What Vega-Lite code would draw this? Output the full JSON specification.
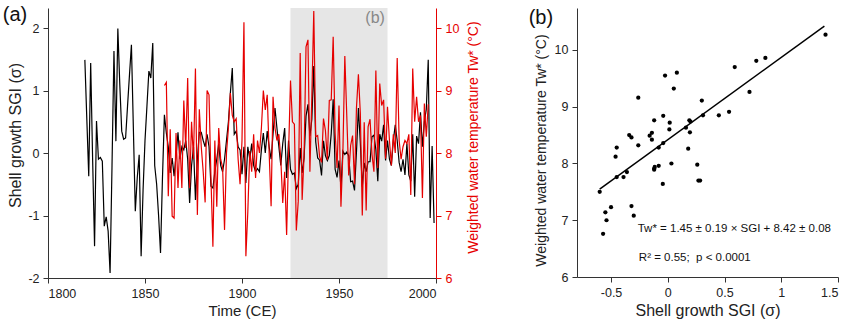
{
  "$schema": "https://vega.github.io/schema/vega-lite/v6.json",
  "background": "white",
  "padding": {"left": 2, "top": 4, "right": 0, "bottom": 0},
  "config": {
    "font": "Liberation Sans",
    "view": {"stroke": null},
    "axis": {"grid": false, "domainColor": "#333", "tickColor": "#333", "labelColor": "#222", "titleColor": "#222", "labelFontSize": 12.5, "titleFontSize": 15, "titleFontWeight": "normal", "tickSize": 5, "labelPadding": 4},
    "axisRight": {"domainColor": "#e60000", "tickColor": "#e60000", "labelColor": "#e60000", "titleColor": "#e60000"}
  },
  "datasets": {
    "ts": [
      {"year": 1819, "sgi": 1.49, "temp": null},
      {"year": 1820, "sgi": 0.55, "temp": null},
      {"year": 1821, "sgi": -0.37, "temp": null},
      {"year": 1822, "sgi": 1.44, "temp": null},
      {"year": 1823, "sgi": -0.1, "temp": null},
      {"year": 1824, "sgi": -1.49, "temp": null},
      {"year": 1825, "sgi": 0.51, "temp": null},
      {"year": 1826, "sgi": -0.1, "temp": null},
      {"year": 1827, "sgi": -0.07, "temp": null},
      {"year": 1828, "sgi": -0.13, "temp": null},
      {"year": 1829, "sgi": -1.17, "temp": null},
      {"year": 1830, "sgi": -1.02, "temp": null},
      {"year": 1831, "sgi": -1.25, "temp": null},
      {"year": 1832, "sgi": -1.92, "temp": null},
      {"year": 1833, "sgi": -0.2, "temp": null},
      {"year": 1834, "sgi": 1.63, "temp": null},
      {"year": 1835, "sgi": 0.19, "temp": null},
      {"year": 1836, "sgi": 1.99, "temp": null},
      {"year": 1837, "sgi": 1.1, "temp": null},
      {"year": 1838, "sgi": 0.35, "temp": null},
      {"year": 1839, "sgi": 0.22, "temp": null},
      {"year": 1840, "sgi": 0.24, "temp": null},
      {"year": 1841, "sgi": 0.75, "temp": null},
      {"year": 1842, "sgi": 1.25, "temp": null},
      {"year": 1843, "sgi": 1.73, "temp": null},
      {"year": 1844, "sgi": 0.4, "temp": null},
      {"year": 1845, "sgi": -0.93, "temp": null},
      {"year": 1846, "sgi": -0.4, "temp": null},
      {"year": 1847, "sgi": -0.03, "temp": null},
      {"year": 1848, "sgi": -1.65, "temp": null},
      {"year": 1849, "sgi": -0.6, "temp": null},
      {"year": 1850, "sgi": 0.2, "temp": null},
      {"year": 1851, "sgi": 0.75, "temp": null},
      {"year": 1852, "sgi": 1.31, "temp": null},
      {"year": 1853, "sgi": 1.2, "temp": null},
      {"year": 1854, "sgi": 1.76, "temp": null},
      {"year": 1855, "sgi": -0.2, "temp": null},
      {"year": 1856, "sgi": -0.5, "temp": null},
      {"year": 1857, "sgi": -1.0, "temp": null},
      {"year": 1858, "sgi": -1.6, "temp": null},
      {"year": 1859, "sgi": -0.4, "temp": null},
      {"year": 1860, "sgi": 0.61, "temp": 9.08},
      {"year": 1861, "sgi": 0.32, "temp": 9.13},
      {"year": 1862, "sgi": 0.1, "temp": 7.31},
      {"year": 1863, "sgi": -0.32, "temp": 8.38},
      {"year": 1864, "sgi": -0.08, "temp": 6.99},
      {"year": 1865, "sgi": -0.37, "temp": 6.96},
      {"year": 1866, "sgi": -0.05, "temp": 8.32},
      {"year": 1867, "sgi": 0.33, "temp": 7.44},
      {"year": 1868, "sgi": -0.1, "temp": 8.2},
      {"year": 1869, "sgi": 0.1, "temp": 7.44},
      {"year": 1870, "sgi": 0.05, "temp": 8.84},
      {"year": 1871, "sgi": 0.2, "temp": 8.08},
      {"year": 1872, "sgi": -0.1, "temp": 9.2},
      {"year": 1873, "sgi": -0.8, "temp": 7.44},
      {"year": 1874, "sgi": -0.2, "temp": 8.5},
      {"year": 1875, "sgi": 0.1, "temp": 7.9},
      {"year": 1876, "sgi": -0.75, "temp": 9.35},
      {"year": 1877, "sgi": -0.1, "temp": 7.01},
      {"year": 1878, "sgi": 0.33, "temp": 8.7},
      {"year": 1879, "sgi": 0.33, "temp": 8.1},
      {"year": 1880, "sgi": 0.2, "temp": 7.7},
      {"year": 1881, "sgi": 0.1, "temp": 7.21},
      {"year": 1882, "sgi": 0.3, "temp": 9.0},
      {"year": 1883, "sgi": 0.1, "temp": 8.93},
      {"year": 1884, "sgi": -0.53, "temp": 7.6},
      {"year": 1885, "sgi": -0.56, "temp": 6.5},
      {"year": 1886, "sgi": -0.3, "temp": 8.2},
      {"year": 1887, "sgi": -0.1, "temp": 7.14},
      {"year": 1888, "sgi": 0.15, "temp": 8.4},
      {"year": 1889, "sgi": -0.2, "temp": 7.9},
      {"year": 1890, "sgi": -0.3, "temp": 7.77},
      {"year": 1891, "sgi": -0.1, "temp": 6.77},
      {"year": 1892, "sgi": 0.2, "temp": 8.0},
      {"year": 1893, "sgi": 0.5, "temp": 8.4},
      {"year": 1894, "sgi": 0.96, "temp": 8.96},
      {"year": 1895, "sgi": 1.36, "temp": 8.6},
      {"year": 1896, "sgi": 0.3, "temp": 8.5},
      {"year": 1897, "sgi": 0.35, "temp": 8.55},
      {"year": 1898, "sgi": 0.1, "temp": 7.9},
      {"year": 1899, "sgi": 0.05, "temp": 7.5},
      {"year": 1900, "sgi": -0.34, "temp": 8.2},
      {"year": 1901, "sgi": 0.1, "temp": 10.09},
      {"year": 1902, "sgi": -0.48, "temp": 6.35},
      {"year": 1903, "sgi": 0.1, "temp": 7.06},
      {"year": 1904, "sgi": -0.1, "temp": 8.03},
      {"year": 1905, "sgi": 0.15, "temp": 7.7},
      {"year": 1906, "sgi": -0.2, "temp": 8.3},
      {"year": 1907, "sgi": -0.3, "temp": 7.6},
      {"year": 1908, "sgi": -0.25, "temp": 8.2},
      {"year": 1909, "sgi": -0.3, "temp": 8.0},
      {"year": 1910, "sgi": 0.05, "temp": 8.4},
      {"year": 1911, "sgi": 0.32, "temp": 9.0},
      {"year": 1912, "sgi": 0.0, "temp": 8.69},
      {"year": 1913, "sgi": 0.35, "temp": 8.93},
      {"year": 1914, "sgi": 0.1, "temp": 8.0},
      {"year": 1915, "sgi": -0.1, "temp": 7.15},
      {"year": 1916, "sgi": 0.3, "temp": 8.9},
      {"year": 1917, "sgi": 0.72, "temp": 8.4},
      {"year": 1918, "sgi": 0.4, "temp": 8.2},
      {"year": 1919, "sgi": 0.1, "temp": 8.3},
      {"year": 1920, "sgi": -0.2, "temp": 7.9},
      {"year": 1921, "sgi": 0.15, "temp": 7.2},
      {"year": 1922, "sgi": 0.4, "temp": 7.7},
      {"year": 1923, "sgi": -0.4, "temp": 6.69},
      {"year": 1924, "sgi": 0.2, "temp": 8.0},
      {"year": 1925, "sgi": -0.26, "temp": 9.16},
      {"year": 1926, "sgi": -0.34, "temp": 8.5},
      {"year": 1927, "sgi": -0.32, "temp": 8.46},
      {"year": 1928, "sgi": -0.57, "temp": 6.76},
      {"year": 1929, "sgi": -0.5, "temp": 7.23},
      {"year": 1930, "sgi": 0.08, "temp": 9.6},
      {"year": 1931, "sgi": -0.32, "temp": 7.25},
      {"year": 1932, "sgi": -0.08, "temp": 7.96},
      {"year": 1933, "sgi": 0.59, "temp": 9.7},
      {"year": 1934, "sgi": 0.78, "temp": 9.81},
      {"year": 1935, "sgi": 0.27, "temp": 7.7},
      {"year": 1936, "sgi": 0.54, "temp": 8.91},
      {"year": 1937, "sgi": 1.39, "temp": 10.27},
      {"year": 1938, "sgi": 0.18, "temp": 8.26},
      {"year": 1939, "sgi": -0.08, "temp": 8.28},
      {"year": 1940, "sgi": -0.115, "temp": 7.94},
      {"year": 1941, "sgi": -0.36, "temp": 7.85},
      {"year": 1942, "sgi": 0.195, "temp": 8.55},
      {"year": 1943, "sgi": -0.04, "temp": 8.36},
      {"year": 1944, "sgi": -0.12, "temp": 7.89},
      {"year": 1945, "sgi": -0.04, "temp": 8.84},
      {"year": 1946, "sgi": 0.31, "temp": 8.85},
      {"year": 1947, "sgi": 0.86, "temp": 9.86},
      {"year": 1948, "sgi": -0.26, "temp": 8.32},
      {"year": 1949, "sgi": -0.39, "temp": 7.76},
      {"year": 1950, "sgi": -0.12, "temp": 8.76},
      {"year": 1951, "sgi": -0.55, "temp": 7.14},
      {"year": 1952, "sgi": 0.032, "temp": 8.0},
      {"year": 1953, "sgi": -0.024, "temp": 9.55},
      {"year": 1954, "sgi": 0.014, "temp": 8.6},
      {"year": 1955, "sgi": -0.044, "temp": 7.64},
      {"year": 1956, "sgi": -0.46, "temp": 8.12},
      {"year": 1957, "sgi": -0.45, "temp": 8.28},
      {"year": 1958, "sgi": -0.6, "temp": 7.5},
      {"year": 1959, "sgi": 0.017, "temp": 8.72},
      {"year": 1960, "sgi": 0.72, "temp": 9.26},
      {"year": 1961, "sgi": 0.16, "temp": 8.63},
      {"year": 1962, "sgi": -0.54, "temp": 7.0},
      {"year": 1963, "sgi": -0.16, "temp": 8.49},
      {"year": 1964, "sgi": -0.3, "temp": 7.08},
      {"year": 1965, "sgi": -0.14, "temp": 8.42},
      {"year": 1966, "sgi": -0.14, "temp": 8.54},
      {"year": 1967, "sgi": 0.26, "temp": 7.98},
      {"year": 1968, "sgi": 0.285, "temp": 7.7},
      {"year": 1969, "sgi": 0.053, "temp": 9.32},
      {"year": 1970, "sgi": -0.45, "temp": 7.76},
      {"year": 1971, "sgi": 0.3, "temp": 9.11},
      {"year": 1972, "sgi": 0.19, "temp": 8.76},
      {"year": 1973, "sgi": 0.45, "temp": 8.85},
      {"year": 1974, "sgi": -0.12, "temp": 7.91},
      {"year": 1975, "sgi": 0.2, "temp": 8.74},
      {"year": 1976, "sgi": -0.1, "temp": 8.2},
      {"year": 1977, "sgi": -0.2, "temp": 7.8},
      {"year": 1978, "sgi": 0.2, "temp": 8.3},
      {"year": 1979, "sgi": 0.45, "temp": 8.0},
      {"year": 1980, "sgi": 0.2, "temp": 9.52},
      {"year": 1981, "sgi": -0.15, "temp": 8.2},
      {"year": 1982, "sgi": -0.3, "temp": 7.9},
      {"year": 1983, "sgi": -0.1, "temp": 8.1},
      {"year": 1984, "sgi": -0.35, "temp": 8.2},
      {"year": 1985, "sgi": 0.15, "temp": 8.15},
      {"year": 1986, "sgi": -0.35, "temp": 8.3},
      {"year": 1987, "sgi": -0.45, "temp": 7.33},
      {"year": 1988, "sgi": 0.3, "temp": 9.35},
      {"year": 1989, "sgi": -0.7, "temp": 8.5},
      {"year": 1990, "sgi": 0.27, "temp": 8.9},
      {"year": 1991, "sgi": 0.15, "temp": 8.5},
      {"year": 1992, "sgi": 0.65, "temp": 8.6},
      {"year": 1993, "sgi": 0.1, "temp": 7.28},
      {"year": 1994, "sgi": 0.5, "temp": 8.79},
      {"year": 1995, "sgi": 0.7, "temp": 8.26},
      {"year": 1996, "sgi": 1.49, "temp": 8.78},
      {"year": 1997, "sgi": -1.04, "temp": null},
      {"year": 1998, "sgi": 0.11, "temp": null},
      {"year": 1999, "sgi": -1.12, "temp": null}
    ]
  },
  "spacing": 47,
  "hconcat": [
    {
      "width": 388,
      "height": 270,
      "data": {"name": "ts"},
      "layer": [
        {
          "layer": [
            {
              "data": {"values": [{"start": 1925, "end": 1975}]},
              "mark": {"type": "rect", "color": "#e6e6e6"},
              "encoding": {
                "x": {"field": "start", "type": "quantitative", "scale": {"domain": [1800, 2000], "nice": false, "zero": false}, "axis": {"title": "Time (CE)", "values": [1800, 1850, 1900, 1950, 2000], "labelExpr": "'' + datum.value"}},
                "x2": {"field": "end"},
                "y": {"datum": -2, "type": "quantitative", "scale": {"domain": [-2, 2.32], "nice": false, "zero": false}, "axis": {"title": "Shell growth SGI (σ)", "titleFontSize": 16, "titleY": 127, "values": [-2, -1, 0, 1, 2], "labelExpr": "datum.value < 0 ? '-' + (-datum.value) : '' + datum.value"}},
                "y2": {"datum": 2.32}
              }
            },
            {
              "mark": {"type": "line", "color": "#000000", "strokeWidth": 1.2},
              "encoding": {
                "x": {"field": "year", "type": "quantitative", "scale": {"domain": [1800, 2000], "nice": false, "zero": false}, "axis": {"title": "Time (CE)", "values": [1800, 1850, 1900, 1950, 2000], "labelExpr": "'' + datum.value"}},
                "y": {"field": "sgi", "type": "quantitative", "scale": {"domain": [-2, 2.32], "nice": false, "zero": false}, "axis": {"title": "Shell growth SGI (σ)", "titleFontSize": 16, "titleY": 127, "values": [-2, -1, 0, 1, 2], "labelExpr": "datum.value < 0 ? '-' + (-datum.value) : '' + datum.value"}}
              }
            },
            {
              "data": {"values": [{}]},
              "mark": {"type": "text", "text": "(b)", "fontSize": 16, "color": "#888888", "align": "center", "baseline": "middle"},
              "encoding": {"x": {"datum": 1968.6, "type": "quantitative", "scale": {"domain": [1800, 2000], "nice": false, "zero": false}}, "y": {"datum": 2.16, "type": "quantitative", "scale": {"domain": [-2, 2.32], "nice": false, "zero": false}}}
            },
            {
              "data": {"values": [{}]},
              "mark": {"type": "text", "text": "(a)", "fontSize": 20, "color": "#111111", "align": "center", "baseline": "middle"},
              "encoding": {"x": {"datum": 1783, "type": "quantitative", "scale": {"domain": [1800, 2000], "nice": false, "zero": false}}, "y": {"datum": 2.21, "type": "quantitative", "scale": {"domain": [-2, 2.32], "nice": false, "zero": false}}}
            }
          ]
        },
        {
          "mark": {"type": "line", "color": "#e60000", "strokeWidth": 1.2},
          "encoding": {
            "x": {"field": "year", "type": "quantitative", "scale": {"domain": [1800, 2000], "nice": false, "zero": false}, "axis": {"title": "Time (CE)", "values": [1800, 1850, 1900, 1950, 2000], "labelExpr": "'' + datum.value"}},
            "y": {"field": "temp", "type": "quantitative", "scale": {"domain": [6, 10.32], "nice": false, "zero": false}, "axis": {"orient": "right", "title": "Weighted water temperature Tw* (°C)", "titleFontSize": 14, "titleY": 129, "titleAngle": 270, "titleBaseline": "top", "titlePadding": 8, "values": [6, 7, 8, 9, 10]}}
          }
        }
      ],
      "resolve": {"scale": {"y": "independent"}}
    },
    {
      "width": 261,
      "height": 269,
      "layer": [
        {
          "data": {"name": "ts"},
          "transform": [{"filter": "datum.year >= 1925 && datum.year <= 1975"}],
          "mark": {"type": "circle", "color": "#000000", "opacity": 1, "size": 18},
          "encoding": {
            "x": {"field": "sgi", "type": "quantitative", "scale": {"domain": [-0.8, 1.5], "nice": false, "zero": false}, "axis": {"title": "Shell growth SGI (σ)", "titleFontSize": 16, "values": [-0.5, 0, 0.5, 1, 1.5], "labelExpr": "datum.value < 0 ? '-' + (-datum.value) : '' + datum.value"}},
            "y": {"field": "temp", "type": "quantitative", "scale": {"domain": [6, 10.74], "nice": false, "zero": false}, "axis": {"title": "Weighted water temperature Tw* (°C)", "titleFontSize": 14, "titleY": 142, "titlePadding": 6, "values": [6, 7, 8, 9, 10], "labelExpr": "'' + datum.value"}}
          }
        },
        {
          "data": {"values": [{}]},
          "mark": {"type": "rule", "color": "#000000", "strokeWidth": 1.5},
          "encoding": {"x": {"datum": -0.6, "type": "quantitative", "scale": {"domain": [-0.8, 1.5], "nice": false, "zero": false}}, "y": {"datum": 7.55, "type": "quantitative", "scale": {"domain": [6, 10.74], "nice": false, "zero": false}}, "x2": {"datum": 1.38}, "y2": {"datum": 10.42}}
        },
        {
          "data": {"values": [{}]},
          "mark": {"type": "text", "text": "Tw* = 1.45 ± 0.19 × SGI + 8.42 ± 0.08", "fontSize": 11.5, "color": "#111111", "align": "left", "baseline": "middle"},
          "encoding": {"x": {"datum": -0.265, "type": "quantitative", "scale": {"domain": [-0.8, 1.5], "nice": false, "zero": false}}, "y": {"datum": 6.85, "type": "quantitative", "scale": {"domain": [6, 10.74], "nice": false, "zero": false}}}
        },
        {
          "data": {"values": [{}]},
          "mark": {"type": "text", "text": "R² = 0.55; \u00a0p < 0.0001", "fontSize": 11.5, "color": "#111111", "align": "left", "baseline": "middle"},
          "encoding": {"x": {"datum": -0.255, "type": "quantitative", "scale": {"domain": [-0.8, 1.5], "nice": false, "zero": false}}, "y": {"datum": 6.34, "type": "quantitative", "scale": {"domain": [6, 10.74], "nice": false, "zero": false}}}
        },
        {
          "data": {"values": [{}]},
          "mark": {"type": "text", "text": "(b)", "fontSize": 20, "color": "#111111", "align": "center", "baseline": "middle"},
          "encoding": {"x": {"datum": -1.118, "type": "quantitative", "scale": {"domain": [-0.8, 1.5], "nice": false, "zero": false}}, "y": {"datum": 10.565, "type": "quantitative", "scale": {"domain": [6, 10.74], "nice": false, "zero": false}}}
        }
      ]
    }
  ]
}
